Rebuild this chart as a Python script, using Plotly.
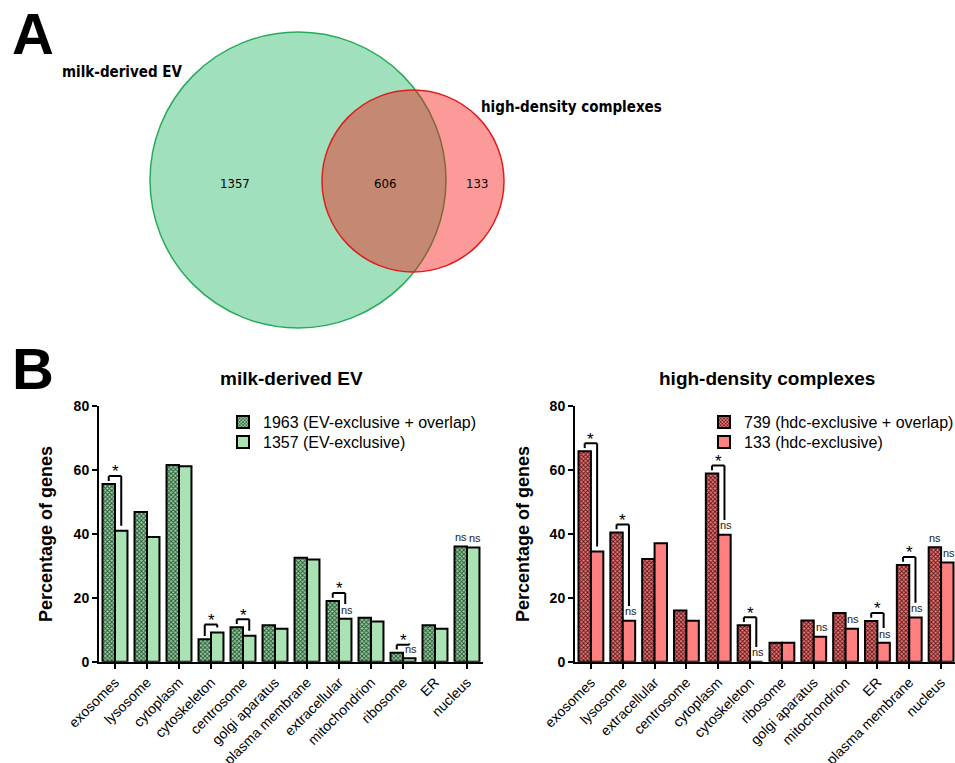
import plotly.graph_objects as go

# ---------------- data ----------------
venn_labels = ["milk-derived EV", "high-density complexes"]
venn_counts = [1357, 606, 133]  # EV-only, overlap, hdc-only

ev_categories = ["exosomes", "lysosome", "cytoplasm", "cytoskeleton", "centrosome",
                 "golgi aparatus", "plasma membrane", "extracellular", "mitochondrion",
                 "ribosome", "ER", "nucleus"]
ev_all = [55.5, 46.8, 61.5, 7.0, 10.8, 11.4, 32.5, 19.0, 13.7, 2.8, 11.4, 36.0]
ev_excl = [40.9, 39.0, 61.1, 9.1, 8.1, 10.3, 31.9, 13.4, 12.6, 1.1, 10.3, 35.7]
ev_star = [1, 0, 0, 1, 1, 0, 0, 1, 0, 1, 0, 0]
ev_ns_all = [0, 0, 0, 0, 0, 0, 0, 0, 0, 0, 0, 1]
ev_ns_excl = [0, 0, 0, 0, 0, 0, 0, 1, 0, 1, 0, 1]

hdc_categories = ["exosomes", "lysosome", "extracellular", "centrosome", "cytoplasm",
                  "cytoskeleton", "ribosome", "golgi aparatus", "mitochondrion", "ER",
                  "plasma membrane", "nucleus"]
hdc_all = [65.8, 40.4, 32.1, 16.0, 58.8, 11.4, 5.9, 12.9, 15.2, 12.7, 30.2, 35.8]
hdc_excl = [34.4, 12.8, 37.0, 12.8, 39.7, 0.0, 5.9, 7.8, 10.3, 5.9, 13.8, 31.0]
hdc_star = [1, 1, 0, 0, 1, 1, 0, 0, 0, 1, 1, 0]
hdc_ns_all = [0, 0, 0, 0, 0, 0, 0, 0, 0, 0, 0, 1]
hdc_ns_excl = [0, 1, 0, 0, 1, 1, 0, 1, 1, 1, 1, 1]

ev_legend = ["1963 (EV-exclusive + overlap)", "1357 (EV-exclusive)"]
hdc_legend = ["739 (hdc-exclusive + overlap)", "133 (hdc-exclusive)"]
y_ticks = [0, 20, 40, 60, 80]

# ---------------- layout helpers ----------------
W, H = 955, 763
FONT = "Liberation Sans, Arial, sans-serif"
VFONT = "DejaVu Sans Condensed, DejaVu Sans, sans-serif"


def px(x):
    return x / W


def py(y):
    return 1 - y / H


fig = go.Figure()
shapes = []
annotations = []

# ---------------- panel A: Venn ----------------
green_fill = "rgb(160,224,188)"
green_line = "rgb(40,170,90)"
red_fill = "rgba(248,14,14,0.42)"
red_line = "rgb(222,30,30)"

gcx, gcy, gr = 298, 180, 148
rcx, rcy, rr = 413, 181, 91
shapes.append(dict(type="circle", xref="paper", yref="paper",
                   x0=px(gcx - gr), x1=px(gcx + gr), y0=py(gcy + gr), y1=py(gcy - gr),
                   fillcolor=green_fill, line=dict(color=green_line, width=1.5), layer="above"))
shapes.append(dict(type="circle", xref="paper", yref="paper",
                   x0=px(rcx - rr), x1=px(rcx + rr), y0=py(rcy + rr), y1=py(rcy - rr),
                   fillcolor=red_fill, line=dict(width=0), layer="above"))
shapes.append(dict(type="circle", xref="paper", yref="paper",
                   x0=px(rcx - rr), x1=px(rcx + rr), y0=py(rcy + rr), y1=py(rcy - rr),
                   fillcolor="rgba(0,0,0,0)", line=dict(color=red_line, width=1.5), layer="above"))

annotations += [
    dict(text="<b>A</b>", x=px(10), y=py(33), xanchor="left", yanchor="middle",
         font=dict(family=FONT, size=58, color="black")),
    dict(text="<b>B</b>", x=px(10), y=py(369), xanchor="left", yanchor="middle",
         font=dict(family=FONT, size=58, color="black")),
    dict(text="<b>%s</b>" % venn_labels[0], x=px(60), y=py(72), xanchor="left", yanchor="middle",
         font=dict(family=VFONT, size=15, color="black")),
    dict(text="<b>%s</b>" % venn_labels[1], x=px(479), y=py(107), xanchor="left", yanchor="middle",
         font=dict(family=VFONT, size=15, color="black")),
    dict(text=str(venn_counts[0]), x=px(235), y=py(183), xanchor="center", yanchor="middle",
         font=dict(family=VFONT, size=13, color="black")),
    dict(text=str(venn_counts[1]), x=px(385), y=py(183), xanchor="center", yanchor="middle",
         font=dict(family=VFONT, size=13, color="black")),
    dict(text=str(venn_counts[2]), x=px(477), y=py(183), xanchor="center", yanchor="middle",
         font=dict(family=VFONT, size=13, color="black")),
]

# ---------------- panel B: bars ----------------
OFF = 0.195  # half distance between the two bars of a group


def add_panel(cats, v_all, v_excl, star, ns_all, ns_excl, names, light, dark_bg, dark_fg,
              xa, ya, legends):
    idx = list(range(len(cats)))
    fig.add_trace(go.Bar(x=idx, y=v_all, name=names[0], xaxis=xa, yaxis=ya, legend=legends[0],
                         marker=dict(color=dark_bg, line=dict(color="black", width=2),
                                     pattern=dict(shape="x", fgcolor=dark_fg, bgcolor=dark_bg,
                                                  size=3, solidity=0.5, fillmode="replace")),
                         offsetgroup="a"))
    fig.add_trace(go.Bar(x=idx, y=v_excl, name=names[1], xaxis=xa, yaxis=ya, legend=legends[1],
                         marker=dict(color=light, line=dict(color="black", width=2)),
                         offsetgroup="b"))
    for i in idx:
        a, b = v_all[i], v_excl[i]
        if star[i]:
            top = max(a, b) + 2.5
            lb = a + 1.0
            rb = b + (4.6 if ns_excl[i] else 1.6)
            xl, xrr = i - OFF, i + OFF
            for (x0, y0, x1, y1) in [(xl, lb, xl, top), (xl, top, xrr, top), (xrr, top, xrr, rb)]:
                shapes.append(dict(type="line", xref=xa, yref=ya, x0=x0, y0=y0, x1=x1, y1=y1,
                                   line=dict(color="black", width=2)))
            annotations.append(dict(text="*", x=i, y=top - 2.3, xref=xa, yref=ya,
                                    xanchor="center", yanchor="bottom", showarrow=False,
                                    font=dict(family=FONT, size=17, color="black")))
        if ns_all[i]:
            annotations.append(dict(text="ns", x=i - OFF, y=a + 0.4, xref=xa, yref=ya,
                                    xanchor="center", yanchor="bottom", showarrow=False,
                                    font=dict(family=FONT, size=11, color="#222")))
        if ns_excl[i]:
            annotations.append(dict(text="ns", x=i + OFF + 0.05, y=b + 0.4, xref=xa, yref=ya,
                                    xanchor="center", yanchor="bottom", showarrow=False,
                                    font=dict(family=FONT, size=11, color="#222")))
    return idx


ev_idx = add_panel(ev_categories, ev_all, ev_excl, ev_star, ev_ns_all, ev_ns_excl, ev_legend,
                   "rgb(170,226,180)", "rgb(150,210,160)", "rgb(40,80,50)", "x", "y",
                   ["legend", "legend2"])
hdc_idx = add_panel(hdc_categories, hdc_all, hdc_excl, hdc_star, hdc_ns_all, hdc_ns_excl, hdc_legend,
                    "rgb(255,128,128)", "rgb(235,120,120)", "rgb(90,20,20)", "x2", "y2",
                    ["legend3", "legend4"])

y0p, y1p = py(661.7), py(405.7)
axis_common = dict(showline=True, linecolor="black", linewidth=2, ticks="outside", ticklen=5,
                   tickwidth=2, tickcolor="black", showgrid=False, zeroline=False,
                   automargin=False)
xfont = dict(family=FONT, size=14, color="black")
yfont = dict(family=FONT, size=14, color="black", weight="bold")

fig.update_layout(
    xaxis=dict(domain=[px(99), px(483)], range=[-0.5, 11.5], tickvals=ev_idx,
               ticktext=ev_categories, tickangle=-45, tickfont=xfont, anchor="y", **axis_common),
    yaxis=dict(domain=[y0p, y1p], range=[0, 80], tickvals=y_ticks, tickfont=yfont,
               anchor="x", **axis_common),
    xaxis2=dict(domain=[px(575), 1.0], range=[-0.5, 11.437], tickvals=hdc_idx,
                ticktext=hdc_categories, tickangle=-45, tickfont=xfont, anchor="y2", **axis_common),
    yaxis2=dict(domain=[y0p, y1p], range=[0, 80], tickvals=y_ticks, tickfont=yfont,
                anchor="x2", **axis_common),
)

# panel titles and axis titles
annotations += [
    dict(text="<b>milk-derived EV</b>", x=px(291), y=py(378), xanchor="center", yanchor="middle",
         font=dict(family=FONT, size=19, color="black")),
    dict(text="<b>high-density complexes</b>", x=px(767), y=py(378), xanchor="center",
         yanchor="middle", font=dict(family=FONT, size=19, color="black")),
    dict(text="<b>Percentage of genes</b>", x=px(46), y=py(534), xanchor="center",
         yanchor="middle", textangle=-90, font=dict(family=FONT, size=18, color="black")),
    dict(text="<b>Percentage of genes</b>", x=px(523), y=py(534), xanchor="center",
         yanchor="middle", textangle=-90, font=dict(family=FONT, size=18, color="black")),
]
for a in annotations:
    a.setdefault("showarrow", False)
    a.setdefault("xref", "paper")
    a.setdefault("yref", "paper")

legend_font = dict(family=FONT, size=16, color="black")


def legend_at(x_text, y_center):
    return dict(x=px(x_text - 40), y=py(y_center), xanchor="left", yanchor="middle",
                font=legend_font, bgcolor="rgba(0,0,0,0)", tracegroupgap=0,
                itemsizing="constant")


fig.update_layout(
    width=W, height=H, autosize=False,
    margin=dict(l=0, r=0, t=0, b=0, pad=0, autoexpand=False),
    paper_bgcolor="white", plot_bgcolor="white",
    barmode="group", bargap=0.22, bargroupgap=0,
    showlegend=True,
    legend=legend_at(263, 422),
    legend2=legend_at(263, 442),
    legend3=legend_at(744, 422),
    legend4=legend_at(744, 442),
    shapes=shapes,
    annotations=annotations,
)

fig.write_html("out.html")
